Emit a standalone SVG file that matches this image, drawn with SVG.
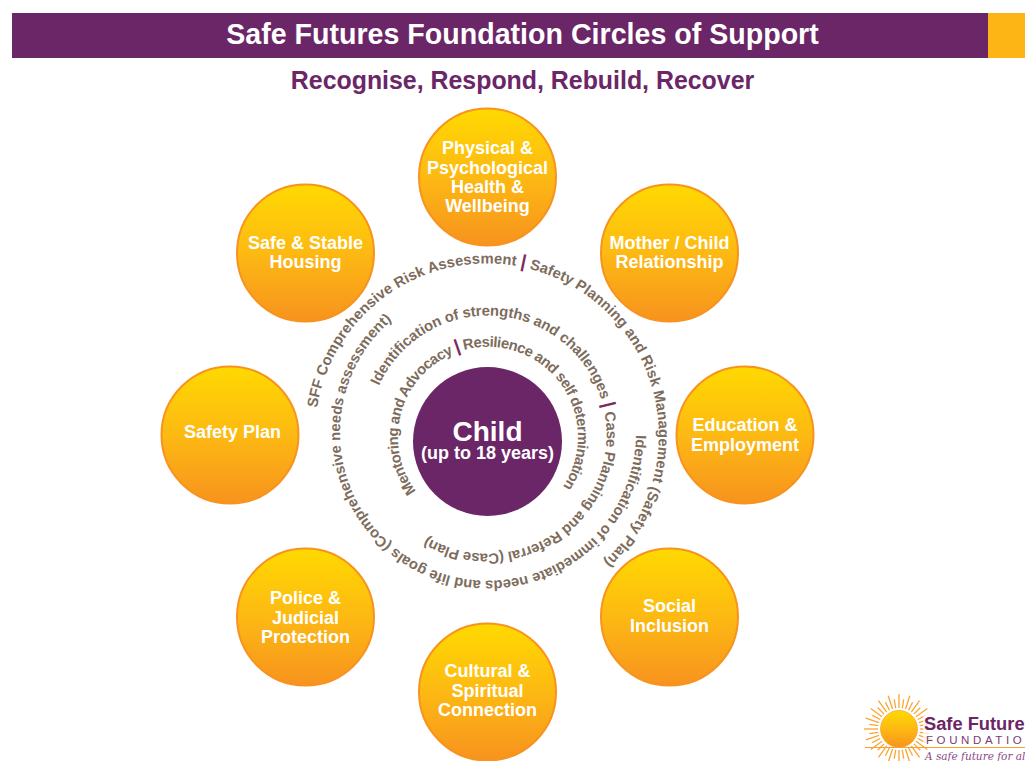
<svg xmlns="http://www.w3.org/2000/svg" width="1025" height="761" viewBox="0 0 1025 761">
<style>
text{font-family:"Liberation Sans",Arial,sans-serif;font-weight:700}
.n{fill:url(#g);stroke:#F7931E;stroke-width:2}
.l{fill:#fff;font-size:18px;text-anchor:middle}
.r{fill:#7D6C5C;font-size:14.800px}
.b{fill:#7B2A5E;font-size:18px}
.ray{stroke:#F9A533;stroke-width:1.300}
</style>
<defs>
<linearGradient id="g" x1="0" y1="0" x2="0" y2="1"><stop offset="0" stop-color="#FFD900"/><stop offset="0.5" stop-color="#FDB913"/><stop offset="1" stop-color="#F7931E"/></linearGradient>
<path id="a1" d="M317 408A172 172 0 1 1 603.700 561.600"/>
<path id="a2" d="M636 435A148 148 0 1 1 392 320"/>
<path id="a3" d="M379 386A119 119 0 1 1 427 537"/>
<path id="a4" d="M416 491A90 90 0 1 1 562 488"/>
<line id="ray" class="ray" x1="899" y1="708" x2="899" y2="694"/>
<line id="rayl" class="ray" x1="899" y1="708" x2="899" y2="699"/>
</defs>
<rect width="1025" height="761" fill="#fff"/>
<g id="header">
<rect x="12" y="13" width="976" height="45" fill="#6B2667"/>
<rect x="988" y="13" width="37" height="45" fill="#FDB515"/>
<text x="522.500" y="44" fill="#fff" font-size="28.600" text-anchor="middle">Safe Futures Foundation Circles of Support</text>
<text x="522.500" y="89" fill="#6B2667" font-size="24.900" text-anchor="middle">Recognise, Respond, Rebuild, Recover</text>
</g>
<g id="rings">
<text class="r"><textPath href="#a1" textLength="654" lengthAdjust="spacing">SFF Comprehensive Risk Assessment <tspan class="b">|</tspan> Safety Planning and Risk Management (Safety Plan)</textPath></text>
<text class="r"><textPath href="#a2" textLength="590" lengthAdjust="spacing">Identification of immediate needs and life goals (Comprehensive needs assessment)</textPath></text>
<text class="r"><textPath href="#a3" textLength="574" lengthAdjust="spacing">Identification of strengths and challenges <tspan class="b">|</tspan> Case Planning and Referral (Case Plan)</textPath></text>
<text class="r"><textPath href="#a4" textLength="393" lengthAdjust="spacing">Mentoring and Advocacy <tspan class="b">|</tspan> Resilience and self determination</textPath></text>
</g>
<g id="child"><circle cx="487.500" cy="441.500" r="74.500" fill="#6B2667"/>
<text x="487.500" y="441" fill="#fff" font-size="28" text-anchor="middle">Child</text>
<text x="487.500" y="459" fill="#fff" font-size="18" text-anchor="middle">(up to 18 years)</text></g>
<g id="n-health"><circle class="n" cx="487.500" cy="177" r="68.500"/><text class="l" x="487.500" y="154">Physical &amp;</text><text class="l" x="487.500" y="174">Psychological</text><text class="l" x="487.500" y="193">Health &amp;</text><text class="l" x="487.500" y="212">Wellbeing</text></g>
<g id="n-mother"><circle class="n" cx="669.500" cy="253" r="68.500"/><text class="l" x="669.500" y="249">Mother / Child</text><text class="l" x="669.500" y="268">Relationship</text></g>
<g id="n-education"><circle class="n" cx="745" cy="435" r="68.500"/><text class="l" x="745" y="431">Education &amp;</text><text class="l" x="745" y="451">Employment</text></g>
<g id="n-social"><circle class="n" cx="669.500" cy="617" r="68.500"/><text class="l" x="669.500" y="612">Social</text><text class="l" x="669.500" y="632">Inclusion</text></g>
<g id="n-cultural"><circle class="n" cx="487.500" cy="692" r="68.500"/><text class="l" x="487.500" y="677">Cultural &amp;</text><text class="l" x="487.500" y="697">Spiritual</text><text class="l" x="487.500" y="716">Connection</text></g>
<g id="n-police"><circle class="n" cx="305.500" cy="617" r="68.500"/><text class="l" x="305.500" y="604">Police &amp;</text><text class="l" x="305.500" y="624">Judicial</text><text class="l" x="305.500" y="643">Protection</text></g>
<g id="n-safety"><circle class="n" cx="230" cy="435" r="68.500"/><text class="l" x="232.500" y="438">Safety Plan</text></g>
<g id="n-housing"><circle class="n" cx="305.500" cy="253" r="68.500"/><text class="l" x="305.500" y="249">Safe &amp; Stable</text><text class="l" x="305.500" y="268">Housing</text></g>
<g id="logo">
<g>
<use href="#ray"/><use href="#rayl" transform="rotate(9 899 729)"/><use href="#ray" transform="rotate(18 899 729)"/><use href="#rayl" transform="rotate(27 899 729)"/><use href="#ray" transform="rotate(36 899 729)"/><use href="#rayl" transform="rotate(45 899 729)"/><use href="#ray" transform="rotate(54 899 729)"/><use href="#rayl" transform="rotate(63 899 729)"/><use href="#ray" transform="rotate(72 899 729)"/><use href="#rayl" transform="rotate(81 899 729)"/><use href="#ray" transform="rotate(90 899 729)"/><use href="#rayl" transform="rotate(99 899 729)"/><use href="#ray" transform="rotate(108 899 729)"/><use href="#rayl" transform="rotate(117 899 729)"/><use href="#ray" transform="rotate(126 899 729)"/><use href="#rayl" transform="rotate(135 899 729)"/><use href="#ray" transform="rotate(144 899 729)"/><use href="#rayl" transform="rotate(153 899 729)"/><use href="#ray" transform="rotate(162 899 729)"/><use href="#rayl" transform="rotate(171 899 729)"/><use href="#ray" transform="rotate(180 899 729)"/><use href="#rayl" transform="rotate(189 899 729)"/><use href="#ray" transform="rotate(198 899 729)"/><use href="#rayl" transform="rotate(207 899 729)"/><use href="#ray" transform="rotate(216 899 729)"/><use href="#rayl" transform="rotate(225 899 729)"/><use href="#ray" transform="rotate(234 899 729)"/><use href="#rayl" transform="rotate(243 899 729)"/><use href="#ray" transform="rotate(252 899 729)"/><use href="#rayl" transform="rotate(261 899 729)"/><use href="#ray" transform="rotate(270 899 729)"/><use href="#rayl" transform="rotate(279 899 729)"/><use href="#ray" transform="rotate(288 899 729)"/><use href="#rayl" transform="rotate(297 899 729)"/><use href="#ray" transform="rotate(306 899 729)"/><use href="#rayl" transform="rotate(315 899 729)"/><use href="#ray" transform="rotate(324 899 729)"/><use href="#rayl" transform="rotate(333 899 729)"/><use href="#ray" transform="rotate(342 899 729)"/><use href="#rayl" transform="rotate(351 899 729)"/>
</g>
<circle cx="899" cy="729" r="18.500" fill="url(#g)" stroke="#F9A533" stroke-width="0.800"/>
<rect x="865" y="747" width="160" height="1" fill="#F7A030"/>
<rect x="923" y="713" width="102" height="33" fill="#fff" fill-opacity="0.700"/>
<text x="924" y="730" fill="#6B2667" font-size="18.300">Safe Future</text>
<text x="926" y="744" fill="#7A3A78" font-size="11.500" letter-spacing="3.600" style="font-weight:400">FOUNDATIO</text>
<text x="925" y="760" fill="#8A4A86" font-size="10.500" font-style="italic" style="font-family:'DejaVu Serif',serif;font-weight:400">A safe future for al</text>
</g>
</svg>
